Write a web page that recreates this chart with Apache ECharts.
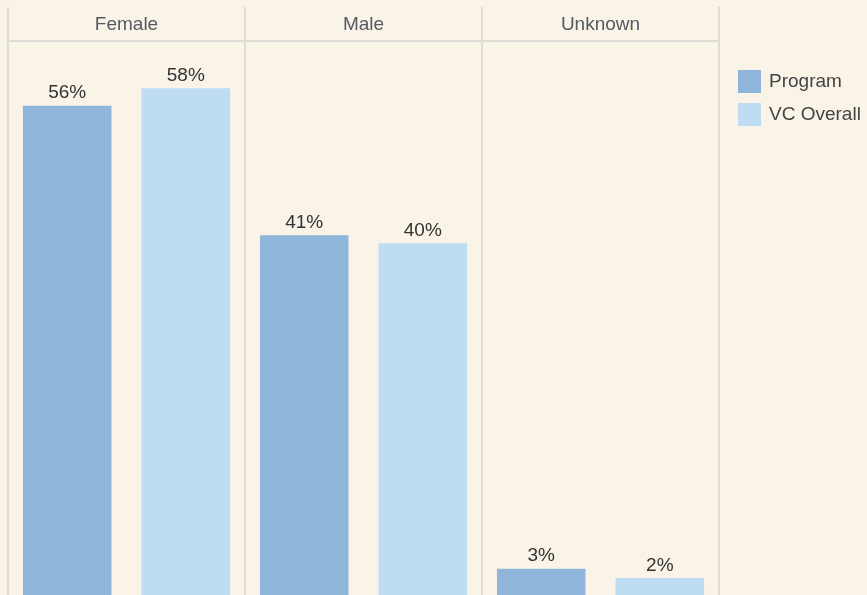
<!DOCTYPE html>
<html>
<head>
<meta charset="utf-8">
<script src="https://cdn.jsdelivr.net/npm/echarts@6/dist/echarts.min.js"></script>
<style>
html,body{margin:0;padding:0;background:#FAF3E7;}
#chart{width:867px;height:595px;}
</style>
</head>
<body>
<div id="chart"></div>
<script>
const categories = ['Female', 'Male', 'Unknown'];
const seriesNames = ['Program', 'VC Overall'];
const programValues = [55.9, 41.1, 3.0];
const overallValues = [57.9, 40.2, 1.95];

const FONT = '"Liberation Sans", Arial, sans-serif';
const LINE = '#DEDCD7';

const chart = echarts.init(document.getElementById('chart'));
const labelCfg = {
  show: true,
  position: 'top',
  distance: 3,
  fontSize: 19,
  fontFamily: FONT,
  color: '#333333',
  formatter: p => Math.round(p.value) + '%'
};
chart.setOption({
  backgroundColor: '#FAF3E7',
  animation: false,
  legend: {
    orient: 'vertical',
    left: 738,
    top: 70,
    padding: 0,
    icon: 'rect',
    itemWidth: 23,
    itemHeight: 23,
    itemGap: 10,
    textStyle: { fontSize: 19, fontFamily: FONT, color: '#444444', padding: [0, 0, 0, 3] },
    data: seriesNames
  },
  grid: { left: 8, right: 148, top: 41, bottom: 0, containLabel: false },
  xAxis: {
    type: 'category',
    position: 'top',
    data: categories,
    axisLine: { show: true, onZero: false, lineStyle: { color: LINE, width: 2 } },
    axisTick: { show: true, length: 34, lineStyle: { color: LINE, width: 2 } },
    splitLine: { show: true, lineStyle: { color: LINE, width: 2 } },
    axisLabel: { fontSize: 19, fontFamily: FONT, color: '#555a60', margin: 7 }
  },
  yAxis: {
    type: 'value',
    min: 0,
    max: 63.3,
    show: false,
    splitLine: { show: false }
  },
  series: [
    {
      name: seriesNames[0],
      type: 'bar',
      data: programValues,
      barWidth: 88.5,
      barGap: '34%',
      itemStyle: { color: '#90B5DB' },
      label: labelCfg
    },
    {
      name: seriesNames[1],
      type: 'bar',
      data: overallValues,
      barWidth: 88.5,
      barGap: '34%',
      itemStyle: { color: '#BEDDF2' },
      label: labelCfg
    }
  ]
});
</script>
</body>
</html>
